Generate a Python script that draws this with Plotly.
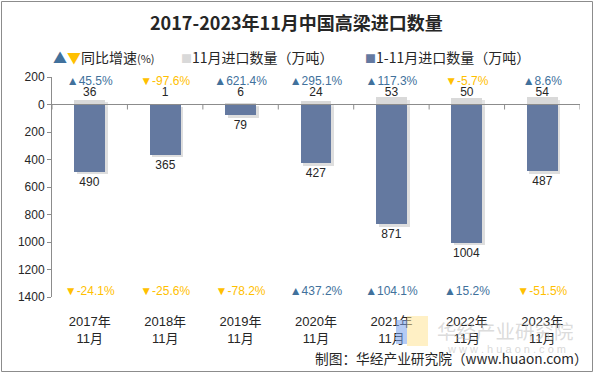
import plotly.graph_objects as go

# ---- data ----
categories = ['2017年<br>11月', '2018年<br>11月', '2019年<br>11月', '2020年<br>11月',
              '2021年<br>11月', '2022年<br>11月', '2023年<br>11月']
nov_qty = [36, 1, 6, 24, 53, 50, 54]            # 11月进口数量（万吨）
cum_qty = [490, 365, 79, 427, 871, 1004, 487]   # 1-11月进口数量（万吨）
nov_yoy = [45.5, -97.6, 621.4, 295.1, 117.3, -5.7, 8.6]
cum_yoy = [-24.1, -25.6, -78.2, 437.2, 104.1, 15.2, -51.5]
ytick_vals = [200, 0, -200, -400, -600, -800, -1000, -1200, -1400]
ytick_text = [str(abs(v)) for v in ytick_vals]

# ---- style ----
W, H = 595, 375
ML, MR, MT, MB = 52, 15, 77, 78
YMIN, YMAX = -1400, 200
BLUE = '#6479A0'
GRAY = '#D9D9D9'
UP = '#41719C'
DOWN = '#FFC000'
FONT = 'Liberation Sans, Arial, Noto Sans CJK SC'
CJK = 'Noto Sans CJK SC, Liberation Sans'
BW = 0.41

pw = W - ML - MR
ph = H - MT - MB
unit_px = ph / (YMAX - YMIN)


def px2paper(x, y):
    return (x - ML) / pw, (H - MB - y) / ph


def yoy_text(v):
    if v >= 0:
        return f'▲{v:.1f}%'
    return f'▼{v:.1f}%'


def yoy_color(v):
    return UP if v >= 0 else DOWN


fig = go.Figure()

# soft shadows
sh = 2.5 / unit_px
fig.add_trace(go.Bar(x=categories, y=[-v for v in cum_qty], base=[-sh] * len(cum_qty),
                     width=BW, offset=-BW / 2 + 0.035,
                     marker=dict(color='rgba(0,0,0,0.13)', line=dict(width=0)),
                     hoverinfo='skip', showlegend=False))
fig.add_trace(go.Bar(x=categories, y=nov_qty, base=[-sh] * len(nov_qty),
                     width=BW, offset=-BW / 2 + 0.035,
                     marker=dict(color='rgba(0,0,0,0.10)', line=dict(width=0)),
                     hoverinfo='skip', showlegend=False))

# bars
fig.add_trace(go.Bar(x=categories, y=nov_qty, width=BW, name='11月进口数量（万吨）',
                     marker=dict(color=GRAY, line=dict(width=0)), showlegend=False))
fig.add_trace(go.Bar(x=categories, y=[-v for v in cum_qty], width=BW,
                     name='1-11月进口数量（万吨）',
                     marker=dict(color=BLUE, line=dict(width=0)),
                     text=[str(v) for v in cum_qty], textposition='outside',
                     textfont=dict(size=12, color='#262626', family=FONT),
                     cliponaxis=False, showlegend=False))

# labels: Nov values at fixed height
fig.add_trace(go.Scatter(x=categories, y=[87] * len(nov_qty), mode='text',
                         text=[str(v) for v in nov_qty],
                         textfont=dict(size=12, color='#262626', family=FONT),
                         hoverinfo='skip', showlegend=False, cliponaxis=False))
# Nov yoy
fig.add_trace(go.Scatter(x=categories, y=[167] * len(nov_yoy), mode='text',
                         text=[yoy_text(v) for v in nov_yoy],
                         textfont=dict(size=12, color=[yoy_color(v) for v in nov_yoy], family=FONT),
                         hoverinfo='skip', showlegend=False, cliponaxis=False))
# cumulative yoy
fig.add_trace(go.Scatter(x=categories, y=[-1364] * len(cum_yoy), mode='text',
                         text=[yoy_text(v) for v in cum_yoy],
                         textfont=dict(size=12, color=[yoy_color(v) for v in cum_yoy], family=FONT),
                         hoverinfo='skip', showlegend=False, cliponaxis=False))

shapes = []
n = len(categories)
# zero line with boundary ticks
shapes.append(dict(type='line', xref='x', yref='y', x0=-0.5, x1=n - 0.5, y0=0, y1=0,
                   line=dict(color='#8C8C8C', width=1)))
for k in range(n + 1):
    shapes.append(dict(type='line', xref='x', yref='y', ysizemode='pixel', yanchor=0,
                       x0=k - 0.5, x1=k - 0.5, y0=0, y1=-5,
                       line=dict(color='#8C8C8C', width=1)))

# outer border
bx0, by0 = px2paper(1.5, 371.5)
bx1, by1 = px2paper(592.5, 1.5)
shapes.append(dict(type='rect', xref='paper', yref='paper', x0=bx0, y0=by0, x1=bx1, y1=by1,
                   line=dict(color='#8C8C8C', width=1), layer='below'))

# watermark logo
lx0, ly0 = px2paper(396, 344)
lx1, ly1 = px2paper(407, 320)
shapes.append(dict(type='rect', xref='paper', yref='paper', x0=lx0, y0=ly0, x1=lx1, y1=ly1,
                   line=dict(width=0), fillcolor='rgba(120,160,235,0.55)'))
lx0, ly0 = px2paper(407, 346)
lx1, ly1 = px2paper(428, 316)
shapes.append(dict(type='rect', xref='paper', yref='paper', x0=lx0, y0=ly0, x1=lx1, y1=ly1,
                   line=dict(width=0), fillcolor='rgba(255,228,150,0.55)'))

annotations = []


def ann(x, y, text, size, color='#262626', family=CJK, xanchor='left', **kw):
    ax, ay = px2paper(x, y)
    annotations.append(dict(x=ax, y=ay, xref='paper', yref='paper', text=text,
                            showarrow=False, xanchor=xanchor, yanchor='middle',
                            font=dict(size=size, color=color, family=family), **kw))


# title
ann(296, 22, '<b>2017-2023年11月中国高梁进口数量</b>', 18, '#262626', xanchor='center')
# legend
ann(51, 57, f'<span style="color:{UP}">▲</span><span style="color:{DOWN}">▼</span>'
            '同比增速<span style="font-size:11px">(%)</span>', 14)
ann(179, 57, f'<span style="color:{GRAY}; font-size:11px">■</span>11月进口数量（万吨）', 14)
ann(363, 57, f'<span style="color:{BLUE}; font-size:11px">■</span>1-11月进口数量（万吨）', 14)
# watermark text
ann(505, 330, '华经产业研究院', 19.5, 'rgba(190,190,190,0.55)', xanchor='center')
ann(506, 349, 'w w w . h u a o n . c o m', 11, 'rgba(190,190,190,0.6)', family=FONT, xanchor='center')
# source
ann(313, 358, '制图：华经产业研究院（www.huaon.com）', 13.7, '#262626', xanchor='left')

fig.update_layout(
    width=W, height=H,
    margin=dict(l=ML, r=MR, t=MT, b=MB),
    paper_bgcolor='white', plot_bgcolor='white',
    barmode='overlay', bargap=0,
    shapes=shapes, annotations=annotations,
    showlegend=False,
    font=dict(family=FONT, size=12, color='#262626'),
)
fig.update_xaxes(range=[-0.5, n - 0.5], showline=False, showgrid=False, zeroline=False,
                 ticks='', tickfont=dict(size=13, family=FONT, color='#262626'),
                 ticklabelstandoff=15)
fig.update_yaxes(range=[YMIN, YMAX], tickvals=ytick_vals, ticktext=ytick_text,
                 showgrid=False, zeroline=False, showline=True, linecolor='#8C8C8C',
                 ticks='outside', ticklen=4, tickcolor='#8C8C8C',
                 tickfont=dict(size=12, family=FONT, color='#262626'))

fig.write_html('out.html', config={'displayModeBar': False},
               post_script="document.body.style.margin='0';")
